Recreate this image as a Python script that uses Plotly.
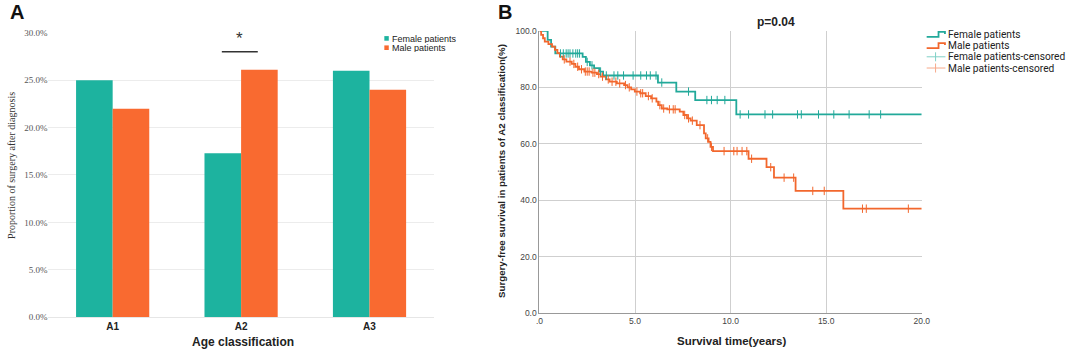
import numpy as np
import plotly.graph_objects as go

# ---------------- Panel A data ----------------
age_groups = ["A1", "A2", "A3"]
female_prop = [25.0, 17.3, 26.0]
male_prop = [22.0, 26.1, 24.0]
bar_yticks = [0, 5, 10, 15, 20, 25, 30]
bar_yticklabels = ["0.0%", "5.0%", "10.0%", "15.0%", "20.0%", "25.0%", "30.0%"]

# ---------------- Panel B data (Kaplan-Meier) ----------------
female_t = [0, 0.43, 0.61, 0.83, 2.26, 2.43, 2.64, 2.86, 3.13, 3.33, 6.2, 7.16, 8.15, 10.3, 20]
female_s = [100, 96.8, 94.4, 92.0, 90.8, 89.0, 87.8, 86.8, 85.6, 84.2, 81.7, 78.5, 75.5, 70.4, 70.4]
male_t = [0, 0.09, 0.19, 0.28, 0.47, 0.66, 0.81, 0.94, 1.07, 1.22, 1.41, 1.69, 1.88, 2.07,
          2.35, 2.73, 3.01, 3.2, 3.48, 3.67, 4.05, 4.43, 4.61, 4.8, 4.99, 5.27, 5.56, 5.84,
          6.12, 6.21, 6.4, 6.69, 7.34, 7.53, 7.72, 7.91, 8.23, 8.61, 8.7, 8.85, 8.95, 9.08,
          10.94, 11.88, 12.27, 13.4, 15.9, 20]
male_s = [100, 98.6, 97.4, 96.2, 95.3, 94.4, 93.3, 92.1, 90.9, 89.9, 89.1, 88.3, 87.3, 86.4,
          85.6, 85.2, 84.7, 83.8, 82.8, 82.0, 81.4, 80.8, 80.0, 79.3, 78.5, 77.9, 76.9, 76.1,
          74.9, 73.7, 72.5, 72.2, 71.4, 70.2, 69.0, 68.2, 66.6, 63.7, 61.9, 60.7, 58.9, 57.4,
          54.7, 51.7, 48.0, 43.3, 37.0, 37.0]
female_cens = [1.1, 1.25, 1.4, 1.5, 1.6, 1.75, 1.9, 2.0, 2.1, 2.5, 2.75, 3.2, 3.5, 3.9, 4.1,
               4.4, 4.9, 5.3, 5.6, 5.8, 6.1, 6.4, 7.8, 8.76, 9.0, 9.3, 9.7, 10.5, 10.94, 11.8,
               12.2, 13.5, 13.7, 14.6, 15.4, 16.2, 17.25, 17.85]
male_cens = [1.3, 1.6, 1.8, 2.0, 2.2, 2.4, 2.5, 2.6, 2.8, 2.9, 3.1, 3.3, 3.6, 3.8, 4.0, 4.2,
             4.5, 4.7, 5.1, 5.3, 5.4, 5.7, 5.9, 6.3, 6.5, 6.8, 7.0, 7.1, 7.6, 7.8, 8.0, 8.4,
             8.8, 9.0, 9.66, 10.17, 10.34, 10.6, 10.85, 11.1, 12.1, 12.8, 13.3, 14.3, 14.9,
             16.9, 17.1, 19.3]
km_xticks = [0, 5, 10, 15, 20]
km_xticklabels = [".0", "5.0", "10.0", "15.0", "20.0"]
km_yticks = [0, 20, 40, 60, 80, 100]
km_yticklabels = ["0.0", "20.0", "40.0", "60.0", "80.0", "100.0"]

TEAL = "#1DB39F"
ORANGE = "#F96A30"
TEAL_L = "#22A99A"
ORANGE_L = "#F2672D"


def step_value(times, surv, t):
    idx = np.searchsorted(np.asarray(times), t, side="right") - 1
    return float(np.asarray(surv)[idx])


W, H = 1072, 352
KY = 1.03  # slight vertical spread


def px(xp):
    return xp / W


def py(yp):
    y = 176 + (yp - 176) * KY
    return 1 - y / H


fig = go.Figure()

# Bars
fig.add_trace(go.Bar(x=age_groups, y=female_prop, name="Female patients",
                     marker=dict(color=TEAL, line=dict(width=0)),
                     xaxis="x", yaxis="y", showlegend=False))
fig.add_trace(go.Bar(x=age_groups, y=male_prop, name="Male patients",
                     marker=dict(color=ORANGE, line=dict(width=0)),
                     xaxis="x", yaxis="y", showlegend=False))

# KM curves
fig.add_trace(go.Scatter(x=female_t, y=female_s, mode="lines", line_shape="hv",
                         line=dict(color=TEAL_L, width=1.8), name="Female patients",
                         xaxis="x2", yaxis="y2", showlegend=False))
fig.add_trace(go.Scatter(x=male_t, y=male_s, mode="lines", line_shape="hv",
                         line=dict(color=ORANGE_L, width=1.8), name="Male patients",
                         xaxis="x2", yaxis="y2", showlegend=False))
fig.add_trace(go.Scatter(x=female_cens, y=[step_value(female_t, female_s, t) for t in female_cens],
                         mode="markers",
                         marker=dict(symbol="line-ns", size=6, line=dict(color=TEAL_L, width=1)),
                         name="Female patients-censored", xaxis="x2", yaxis="y2", showlegend=False))
fig.add_trace(go.Scatter(x=male_cens, y=[step_value(male_t, male_s, t) for t in male_cens],
                         mode="markers",
                         marker=dict(symbol="line-ns", size=6, line=dict(color=ORANGE_L, width=1)),
                         name="Male patients-censored", xaxis="x2", yaxis="y2", showlegend=False))

fig.update_layout(
    width=W, height=H, margin=dict(l=0, r=0, t=0, b=0),
    paper_bgcolor="white", plot_bgcolor="white",
    barmode="group", bargap=0.43, bargroupgap=0,
    font=dict(family="Liberation Sans, Arial", color="#222"),
    xaxis=dict(domain=[px(45), px(435)], range=[-0.5, 2.5], anchor="y",
               showline=True, linecolor="#e6e6e6", linewidth=1, ticks="",
               tickfont=dict(size=10, family="Liberation Sans, Arial", color="#222", weight="bold"),
               showgrid=False),
    yaxis=dict(domain=[py(317), py(33)], range=[0, 30], anchor="x",
               tickvals=bar_yticks, ticktext=bar_yticklabels,
               tickfont=dict(size=9, family="Liberation Serif, Times New Roman", color="#555"),
               showgrid=True, gridcolor="#ececec", gridwidth=1, zeroline=False,
               showline=False, ticks=""),
    xaxis2=dict(domain=[px(542), px(929)], range=[0, 20], anchor="y2",
                tickvals=km_xticks, ticktext=km_xticklabels,
                tickfont=dict(size=8.5, color="#444"),
                showgrid=True, gridcolor="#cfcfcf", gridwidth=1,
                showline=True, linecolor="#999", linewidth=1, zeroline=False, ticks=""),
    yaxis2=dict(domain=[py(313), py(31)], range=[0, 100], anchor="x2",
                tickvals=km_yticks, ticktext=km_yticklabels,
                tickfont=dict(size=8.5, color="#444"),
                showgrid=True, gridcolor="#cfcfcf", gridwidth=1,
                showline=True, linecolor="#999", linewidth=1, zeroline=False, ticks=""),
)

ann = []
shapes = []
# Panel letters
ann.append(dict(x=px(4), y=py(12), xref="paper", yref="paper", text="<b>A</b>", showarrow=False,
                xanchor="left", yanchor="middle", font=dict(size=20, color="#111", family="Liberation Sans, Arial")))
ann.append(dict(x=px(498), y=py(12), xref="paper", yref="paper", text="<b>B</b>", showarrow=False,
                xanchor="left", yanchor="middle", font=dict(size=20, color="#111", family="Liberation Sans, Arial")))
# Axis titles panel A
ann.append(dict(x=px(8), y=py(165), xref="paper", yref="paper",
                text="Proportion of surgery after diagnosis", textangle=-90, showarrow=False,
                xanchor="center", yanchor="middle",
                font=dict(size=10, family="Liberation Serif, Times New Roman", color="#333")))
ann.append(dict(x=px(242), y=py(342), xref="paper", yref="paper", text="<b>Age classification</b>",
                showarrow=False, xanchor="center", yanchor="middle",
                font=dict(size=12, color="#222")))
# Significance
shapes.append(dict(type="line", xref="x", yref="y", x0=0.85, x1=1.13, y0=28.0, y1=28.0,
                   line=dict(color="#333", width=1.5)))
ann.append(dict(x=0.99, y=28.2, xref="x", yref="y", text="*", showarrow=False, yanchor="bottom",
                font=dict(size=17, color="#333")))
# Legend panel A
for i, (lab, col) in enumerate([("Female patients", TEAL), ("Male patients", ORANGE)]):
    yc = 38.5 + i * 9.3
    shapes.append(dict(type="rect", xref="paper", yref="paper",
                       x0=px(385), x1=px(389.5), y0=py(yc + 2.3), y1=py(yc - 2.3),
                       fillcolor=col, line=dict(width=0)))
    ann.append(dict(x=px(390.5), y=py(yc), xref="paper", yref="paper", text=lab, showarrow=False,
                    xanchor="left", yanchor="middle", height=9,
                    font=dict(size=9, color="#222")))

# Panel B titles
ann.append(dict(x=px(781), y=py(22), xref="paper", yref="paper", text="<b>p=0.04</b>", showarrow=False,
                xanchor="center", yanchor="middle", font=dict(size=12, color="#222")))
ann.append(dict(x=px(736), y=py(341), xref="paper", yref="paper", text="<b>Survival time(years)</b>",
                showarrow=False, xanchor="center", yanchor="middle", font=dict(size=11.5, color="#222")))
ann.append(dict(x=px(504), y=py(171), xref="paper", yref="paper",
                text="<b>Surgery-free survival in patients of A2 classification(%)</b>", textangle=-90,
                showarrow=False, xanchor="center", yanchor="middle", font=dict(size=9.7, color="#222")))
# Legend panel B
leg_items = [("Female patients", TEAL_L, "step"), ("Male patients", ORANGE_L, "step"),
             ("Female patients-censored", "#7fd0c6", "cens"), ("Male patients-censored", "#f7a98a", "cens")]
for i, (lab, col, kind) in enumerate(leg_items):
    yc = 34.5 + i * 11.2
    if kind == "step":
        path = "M {a},{b} L {c},{b} L {c},{d} L {e},{d} L {e},{f}".format(
            a=px(934), b=py(yc + 2.5), c=px(946), d=py(yc - 2.5), e=px(952.5), f=py(yc - 0.5))
        shapes.append(dict(type="path", xref="paper", yref="paper", path=path,
                           line=dict(color=col, width=1.8)))
    else:
        shapes.append(dict(type="line", xref="paper", yref="paper", x0=px(934), x1=px(953),
                           y0=py(yc), y1=py(yc), line=dict(color=col, width=1)))
        shapes.append(dict(type="line", xref="paper", yref="paper", x0=px(943), x1=px(943),
                           y0=py(yc - 4.5), y1=py(yc + 4.5), line=dict(color=col, width=1)))
    ann.append(dict(x=px(953.5), y=py(yc), xref="paper", yref="paper", text=lab, showarrow=False,
                    xanchor="left", yanchor="middle",
                    font=dict(size=10.2, color="#222", family="Roboto")))

fig.update_layout(annotations=ann, shapes=shapes)
fig.write_html(
    "out.html",
    config={"displayModeBar": False},
    post_script=("document.documentElement.style.margin='0';"
                 "document.documentElement.style.overflow='hidden';"
                 "document.body.style.margin='0';"
                 "document.body.style.overflow='hidden';"),
)
